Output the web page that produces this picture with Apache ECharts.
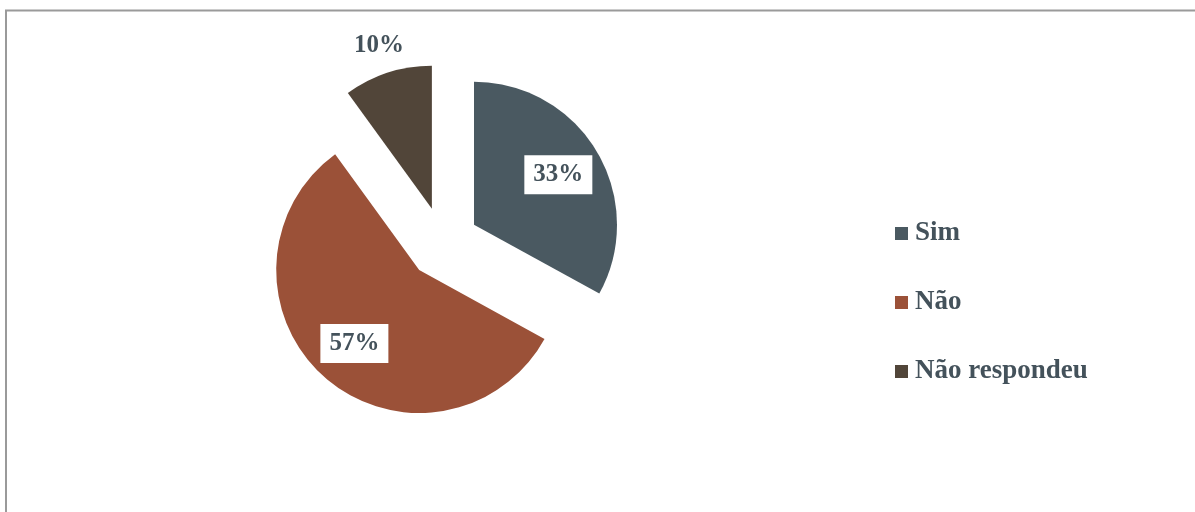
<!DOCTYPE html>
<html>
<head>
<meta charset="utf-8">
<style>
  html, body { margin: 0; padding: 0; background: #ffffff; }
  #chart { width: 1195px; height: 512px; }
</style>
<script src="https://cdn.jsdelivr.net/npm/echarts@6/dist/echarts.min.js"></script>
</head>
<body>
<div id="chart"></div>
<script>
// Answers and their shares (percent)
const categories = ['Sim', 'Não', 'Não respondeu'];
const values = [33, 57, 10];
const colors = ['#4a5961', '#9b5138', '#514539'];

const TEXT = '#44525b';
const FONT = '"Liberation Serif", "DejaVu Serif", serif';
const CENTER = [443, 243];
const R = 143;
const OFFSET = 36;

const chart = echarts.init(document.getElementById('chart'), null, { renderer: 'canvas' });

// Slices, all pulled out from the centre
const sliceData = categories.map((name, i) => ({
  name, value: values[i], selected: true,
  itemStyle: { color: colors[i] }
}));

// Transparent copies of the slices, used only to place the percentage labels
function labelData(showFor, labelStyle) {
  return categories.map((name, i) => ({
    name, value: values[i], selected: true,
    itemStyle: { color: 'rgba(0,0,0,0)' },
    label: showFor.includes(i) ? Object.assign({ show: true }, labelStyle) : { show: false }
  }));
}

const baseLabel = {
  position: 'inside',
  formatter: p => p.value + '%',
  color: TEXT,
  fontFamily: FONT,
  fontWeight: 'bold',
  fontSize: 25
};

const labelSeriesCommon = {
  type: 'pie',
  center: CENTER,
  startAngle: 90,
  clockwise: true,
  selectedMode: 'multiple',
  selectedOffset: OFFSET,
  silent: true,
  legendHoverLink: false,
  animation: false,
  labelLine: { show: false },
  emphasis: { disabled: true },
  z: 5
};

chart.setOption({
  backgroundColor: '#ffffff',
  animation: false,
  graphic: [{
    type: 'polyline',
    shape: { points: [[6, 520], [6, 10.5], [1200, 10.5]] },
    style: { stroke: '#9a9a9a', lineWidth: 2, fill: null },
    silent: true
  }],
  legend: {
    orient: 'vertical',
    left: 890,
    top: 215,
    itemWidth: 13,
    itemHeight: 13,
    itemGap: 42,
    icon: 'rect',
    data: categories,
    textStyle: {
      color: TEXT,
      fontFamily: FONT,
      fontWeight: 'bold',
      fontSize: 27,
      padding: [0, 0, 0, 2]
    },
    selectedMode: false
  },
  series: [
    {
      type: 'pie',
      name: 'Respostas',
      center: CENTER,
      radius: R,
      startAngle: 90,
      clockwise: true,
      selectedMode: 'multiple',
      selectedOffset: OFFSET,
      animation: false,
      label: { show: false },
      labelLine: { show: false },
      emphasis: { disabled: true },
      data: sliceData
    },
    Object.assign({}, labelSeriesCommon, {
      name: 'rótulos internos',
      radius: [0, 190],
      data: labelData([0, 1], Object.assign({}, baseLabel, {
        backgroundColor: '#ffffff',
        padding: [8, 9, 6, 9]
      }))
    }),
    Object.assign({}, labelSeriesCommon, {
      name: 'rótulo externo',
      radius: [143, 194],
      data: labelData([2], baseLabel)
    })
  ]
});
</script>
</body>
</html>
